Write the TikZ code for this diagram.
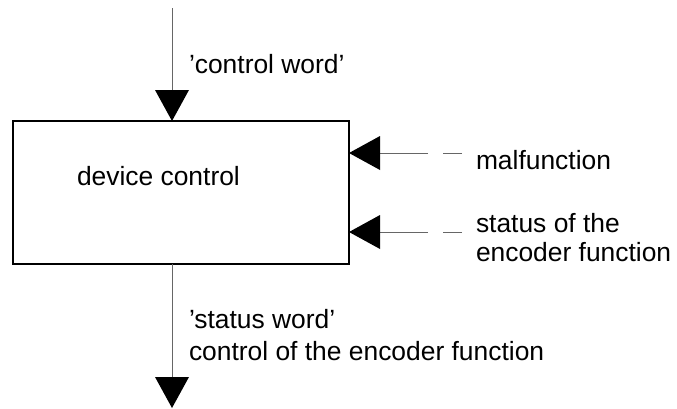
\documentclass[tikz,border=0pt]{standalone}
\usepackage{fontspec}
\setmainfont{Liberation Sans}
\usetikzlibrary{arrows.meta}
\begin{document}
\begin{tikzpicture}[x=1pt,y=-1pt,
  every node/.style={inner sep=0pt, outer sep=0pt, font=\fontsize{26.4}{29}\selectfont},
  block/.style={draw=black, line width=2pt, rectangle, minimum width=336pt, minimum height=143pt},
  lbl/.style={anchor=base west, align=left},
  flow/.style={draw=black!60, line width=1pt, -{Triangle[length=31pt,width=34pt,color=black,line width=0pt]}}
]
\useasboundingbox (0,0) rectangle (677,408);
\node[block] (box) at (181,192.5) {};
\node[lbl] (devlbl) at (77,185) {device control};
\coordinate (ctop) at (172,8);
\coordinate (cbot) at (172,408);
\coordinate (m1) at (462,153);
\coordinate (m2) at (462,232);
\draw[flow] (ctop) -- (ctop |- box.north);
\draw[flow] (cbot |- box.south) -- (cbot);
\draw[flow, dash pattern=on 19pt off 15pt on 300pt] (m1) -- (box.east |- m1);
\draw[flow, dash pattern=on 19pt off 15pt on 300pt] (m2) -- (box.east |- m2);
\node[lbl] (cw) at (189,73) {'control word'};
\node[lbl] (mf) at (476,169) {malfunction};
\node[lbl] (st) at (476,261) {status of the\\encoder function};
\node[lbl, font=\fontsize{26.4}{32}\selectfont] (sw) at (189,360) {'status word'\\control of the encoder function};
\end{tikzpicture}
\end{document}
